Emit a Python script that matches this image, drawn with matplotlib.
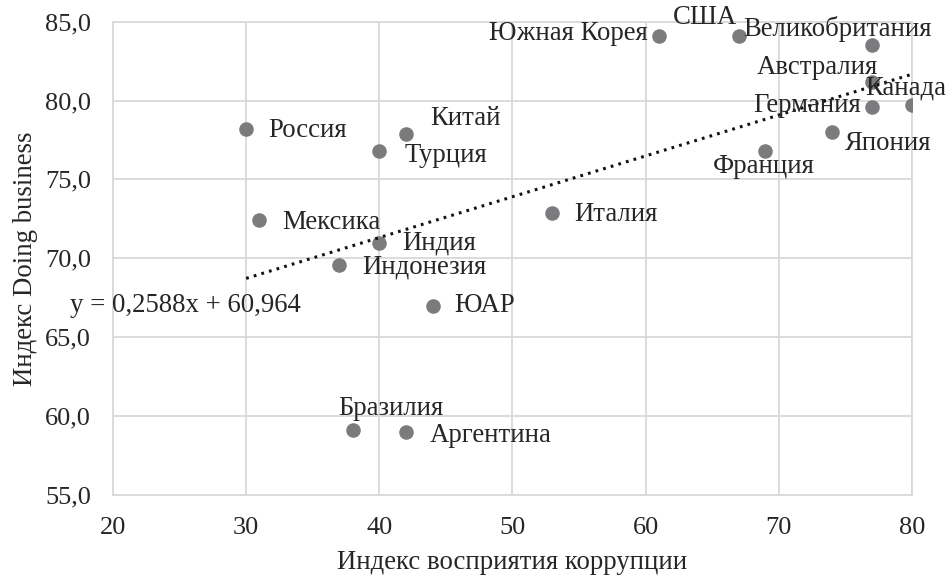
import matplotlib
matplotlib.use("Agg")
import matplotlib.pyplot as plt
import numpy as np

# data
countries = ["Россия", "Мексика", "Китай", "Турция", "Индия", "Индонезия", "ЮАР",
             "Бразилия", "Аргентина", "Италия", "Южная Корея", "США", "Великобритания",
             "Австралия", "Германия", "Канада", "Япония", "Франция"]
cpi = [30, 31, 42, 40, 40, 37, 44, 38, 42, 53, 61, 67, 77, 77, 77, 80, 74, 69]
doing_business = [78.2, 72.4, 77.9, 76.8, 71.0, 69.6, 67.0, 59.1, 59.0, 72.9,
                  84.1, 84.1, 83.5, 81.2, 79.6, 79.7, 78.0, 76.8]
trend_slope = 0.2588
trend_intercept = 60.964
x_ticks = [20, 30, 40, 50, 60, 70, 80]
y_ticks = [55, 60, 65, 70, 75, 80, 85]

# label offsets in pixels (dx, dy, ha)
label_pos = {
    "Россия": (22, -2, "left"),
    "Мексика": (23, -2, "left"),
    "Китай": (24, 15, "left"),
    "Турция": (25, -4, "left"),
    "Индия": (23, 0, "left"),
    "Индонезия": (23, -2, "left"),
    "ЮАР": (22, 0, "left"),
    "Бразилия": (-14, 22, "left"),
    "Аргентина": (24, -4, "left"),
    "Италия": (22, -2, "left"),
    "Южная Корея": (-11, 2, "right"),
    "США": (-2, 18, "right"),
    "Великобритания": (-129, 16, "left"),
    "Австралия": (-115, 14, "left"),
    "Германия": (-119, 1, "left"),
    "Канада": (-47, 17, "left"),
    "Япония": (13, -11, "left"),
    "Франция": (-53, -15, "left"),
}

plt.rcParams["font.family"] = ["Liberation Serif", "DejaVu Serif"]
text_color = "#262626"
grid_color = "#d9d9d9"
fs = 19.3

fig = plt.figure(figsize=(9.48, 5.8), dpi=100)
ax = fig.add_axes([0.1192, 0.1466, 0.8428, 0.816])

ax.set_xlim(20, 80)
ax.set_ylim(55, 85)
ax.set_xticks(x_ticks)
ax.set_yticks(y_ticks)
ax.set_yticklabels([f"{v:.1f}".replace(".", ",") for v in y_ticks])
ax.grid(True, color=grid_color, linewidth=1.3)
ax.set_axisbelow(True)
for s in ax.spines.values():
    s.set_color(grid_color)
    s.set_linewidth(1.3)
ax.tick_params(length=0, labelsize=19, colors=text_color)
ax.tick_params(axis="y", pad=16)
ax.tick_params(axis="x", pad=16)

ax.scatter(cpi, doing_business, s=110, color="#7b7b7d", zorder=3, linewidths=0)

xt = np.array([min(cpi), max(cpi)])
ax.plot(xt, trend_slope * xt + trend_intercept, color="#111111", lw=2.2,
        linestyle=(0, (0.9, 1.7)), zorder=4)

for name, x, y in zip(countries, cpi, doing_business):
    dx, dy, ha = label_pos[name]
    ax.annotate(name, (x, y), xytext=(dx * 0.72, dy * 0.72), textcoords="offset points",
                ha=ha, va="center", fontsize=fs, color=text_color, zorder=5)

eq = f"y = {trend_slope:.4f}x + {trend_intercept:.3f}".replace(".", ",")
ax.text(16.8, 67.0, eq, ha="left", va="center", fontsize=fs, color=text_color,
        clip_on=False)

ax.set_xlabel("Индекс восприятия коррупции", fontsize=fs, color=text_color, labelpad=8)
ax.set_ylabel("Индекс Doing business", fontsize=fs, color=text_color, labelpad=5)

fig.savefig("out.png", dpi=100)
